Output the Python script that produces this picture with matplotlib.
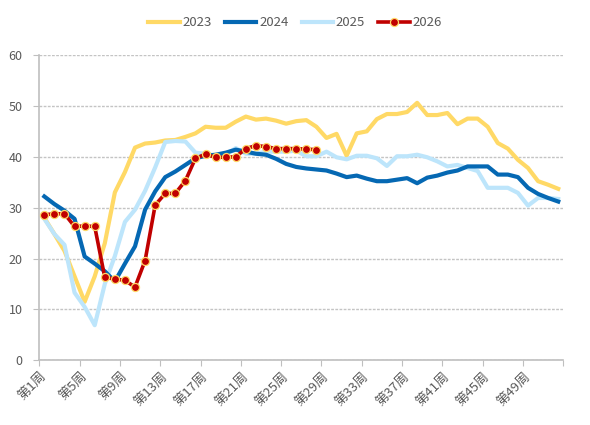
import matplotlib
matplotlib.use("Agg")
import matplotlib.pyplot as plt
import numpy as np

plt.rcParams['font.family'] = ['Noto Sans CJK SC', 'DejaVu Sans']

weeks = [f"第{i}周" for i in range(1, 53)]

s2023 = [28.0, 24.8, 21.5, 16.5, 11.5, 16.5, 23.0, 33.0, 37.0, 41.8,
         42.6, 42.8, 43.2, 43.3, 43.9, 44.6, 45.9, 45.7, 45.7, 46.9,
         47.9, 47.3, 47.5, 47.1, 46.5, 47.0, 47.2, 45.9, 43.7, 44.5,
         40.2, 44.6, 45.0, 47.4, 48.4, 48.4, 48.8, 50.6, 48.2, 48.2,
         48.6, 46.4, 47.5, 47.5, 45.9, 42.7, 41.6, 39.4, 37.8, 35.2,
         34.5, 33.7]
s2024 = [32.2, 30.7, 29.4, 27.8, 20.4, 19.0, 17.5, 15.5, 19.0, 22.4,
         29.6, 33.2, 36.0, 37.1, 38.4, 39.7, 40.2, 40.4, 40.8, 41.4,
         41.0, 40.6, 40.4, 39.6, 38.6, 38.0, 37.7, 37.5, 37.3, 36.7,
         36.0, 36.3, 35.7, 35.2, 35.2, 35.5, 35.8, 34.8, 35.9, 36.3,
         36.9, 37.3, 38.1, 38.1, 38.1, 36.5, 36.5, 36.0, 33.9, 32.7,
         31.9, 31.2]
s2025 = [27.8, 24.8, 22.7, 13.3, 10.5, 6.9, 15.0, 20.5, 27.2, 29.6,
         33.3, 37.9, 42.9, 43.1, 43.0, 40.8, 40.6, 40.2, 40.4, 41.7,
         40.6, 40.6, 41.0, 41.0, 41.0, 41.2, 40.1, 40.1, 41.0, 39.9,
         39.5, 40.2, 40.2, 39.7, 38.2, 40.1, 40.1, 40.4, 39.9, 39.1,
         38.1, 38.4, 37.8, 37.2, 33.9, 33.9, 33.9, 32.9, 30.4, 31.9,
         31.9, 31.7]
s2026 = [28.6, 28.8, 28.8, 26.3, 26.4, 26.3, 16.3, 16.0, 15.7, 14.4,
         19.6, 30.5, 32.8, 32.8, 35.3, 39.7, 40.5, 39.9, 39.9, 40.0,
         41.6, 42.2, 42.0, 41.6, 41.6, 41.6, 41.5, 41.4]

yticks = [0, 10, 20, 30, 40, 50, 60]

fig = plt.figure(figsize=(5.9, 4.25), dpi=100)
ax = fig.add_axes([0.0666, 0.1522, 0.8881, 0.7184])

x_all = np.arange(len(weeks))
ax.plot(x_all, s2023, color='#FFD966', lw=3.0, label='2023', zorder=3)
ax.plot(x_all, s2024, color='#0568B3', lw=3.0, label='2024', zorder=4)
ax.plot(x_all, s2025, color='#BDE5FB', lw=3.0, label='2025', zorder=3.5)
ax.plot(np.arange(len(s2026)), s2026, color='#C00000', lw=2.6, marker='o',
        markersize=5.8, markerfacecolor='#C00000', markeredgecolor='#FFD966',
        markeredgewidth=0.9, label='2026', zorder=5)

ax.set_xlim(-0.5, len(weeks) - 0.5)
ax.set_ylim(0, 60)
ax.set_yticks(yticks)
ax.set_yticklabels([str(v) for v in yticks])
ax.yaxis.grid(True, color='#C4C4C4', lw=1.0, linestyle=(0, (2.0, 1.0)))
ax.set_axisbelow(True)

# major ticks at category boundaries, labels at centers (minor)
ax.set_xticks(np.arange(-0.5, len(weeks), 4))
ax.set_xticklabels([])
lab_pos = np.arange(0, len(weeks), 4)
ax.set_xticks(lab_pos, minor=True)
ax.set_xticklabels([weeks[i] for i in lab_pos], minor=True, rotation=45,
                   ha='right', va='center', rotation_mode='anchor',
                   fontsize=9.5, color='#595959')
ax.tick_params(axis='x', which='minor', length=0, pad=10)
ax.tick_params(axis='x', which='major', length=4, color='#BFBFBF', direction='out')
ax.tick_params(axis='y', length=4, color='#BFBFBF', labelsize=9,
               labelcolor='#595959', pad=8)

for sp in ['top', 'right']:
    ax.spines[sp].set_visible(False)
for sp in ['left', 'bottom']:
    ax.spines[sp].set_color('#BFBFBF')
    ax.spines[sp].set_linewidth(1.2)

leg = fig.legend(loc='center', bbox_to_anchor=(0.5, 0.946), ncol=4,
                 frameon=False, fontsize=9.5, handlelength=2.4,
                 handletextpad=0.2, columnspacing=1.0, labelcolor='#595959')

fig.savefig('out.png', dpi=100)
